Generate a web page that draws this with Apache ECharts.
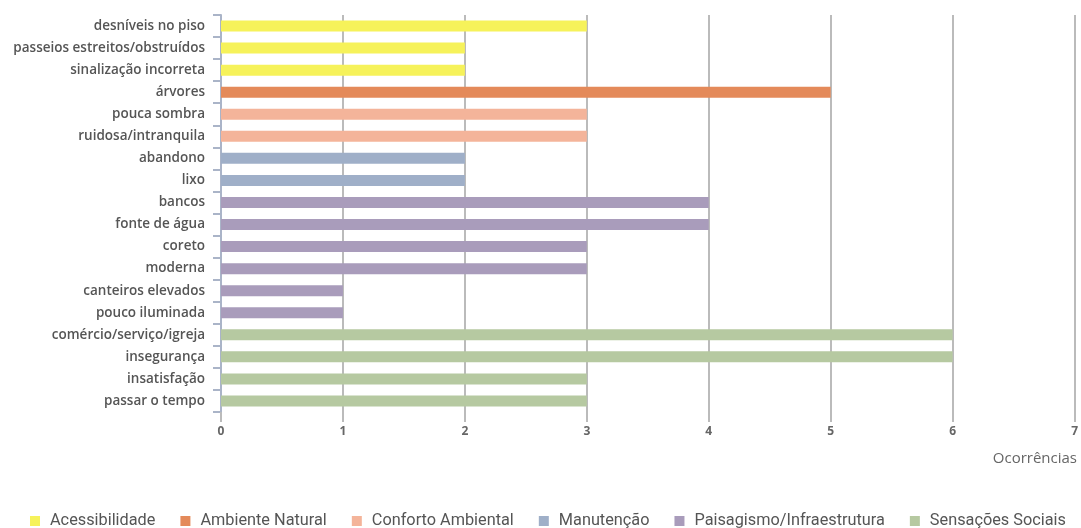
<!DOCTYPE html>
<html>
<head>
<meta charset="utf-8">
<script src="https://cdn.jsdelivr.net/npm/echarts@6/dist/echarts.min.js"></script>
<style>
  html, body { margin: 0; padding: 0; background: #fff; }
  #chart { width: 1081px; height: 528px; }
</style>
</head>
<body>
<div id="chart"></div>
<script>
// Categories, top to bottom
const categories = [
  'desníveis no piso', 'passeios estreitos/obstruídos', 'sinalização incorreta',
  'árvores', 'pouca sombra', 'ruidosa/intranquila',
  'abandono', 'lixo',
  'bancos', 'fonte de água', 'coreto', 'moderna', 'canteiros elevados', 'pouco iluminada',
  'comércio/serviço/igreja', 'insegurança', 'insatisfação', 'passar o tempo'
];

// Group of each category
const groups = [
  'Acessibilidade', 'Acessibilidade', 'Acessibilidade',
  'Ambiente Natural', 'Conforto Ambiental', 'Conforto Ambiental',
  'Manutenção', 'Manutenção',
  'Paisagismo/Infraestrutura', 'Paisagismo/Infraestrutura', 'Paisagismo/Infraestrutura',
  'Paisagismo/Infraestrutura', 'Paisagismo/Infraestrutura', 'Paisagismo/Infraestrutura',
  'Sensações Sociais', 'Sensações Sociais', 'Sensações Sociais', 'Sensações Sociais'
];

// Occurrences per category
const values = [3, 2, 2, 5, 3, 3, 2, 2, 4, 4, 3, 3, 1, 1, 6, 6, 3, 3];

const groupNames = ['Acessibilidade', 'Ambiente Natural', 'Conforto Ambiental',
  'Manutenção', 'Paisagismo/Infraestrutura', 'Sensações Sociais'];
const groupColors = ['#f6f25a', '#e48a5a', '#f4b49a', '#9fafc8', '#a99cbb', '#b6c9a1'];

const series = groupNames.map((g, gi) => ({
  name: g,
  type: 'bar',
  stack: 'all',
  barWidth: 11,
  itemStyle: { color: groupColors[gi] },
  data: values.map((v, i) => groups[i] === g ? v : null)
}));

const chart = echarts.init(document.getElementById('chart'));
chart.setOption({
  animation: false,
  textStyle: { fontFamily: 'Open Sans' },
  grid: { left: 221, right: 4, top: 15, bottom: 116, containLabel: false },
  legend: {
    top: 508,
    left: 25,
    itemWidth: 10,
    itemHeight: 10,
    itemGap: 25,
    icon: 'rect',
    textStyle: {
      fontFamily: 'Roboto, sans-serif',
      fontSize: 16.3, color: '#555',
      padding: [0, 0, 0, 5]
    },
    data: groupNames
  },
  xAxis: {
    type: 'value',
    min: 0, max: 7, interval: 1,
    axisLine: { show: false },
    axisTick: { show: true, length: 10, lineStyle: { color: '#bbb', width: 2 } },
    splitLine: { show: true, lineStyle: { color: '#bbb', width: 2 } },
    axisLabel: { color: '#666', fontSize: 12, fontWeight: 'bold', margin: 14, fontFamily: 'Open Sans' }
  },
  yAxis: {
    type: 'category',
    inverse: true,
    data: categories,
    axisLine: { show: true, lineStyle: { color: '#aab4c8', width: 2 } },
    axisTick: { show: true, length: 8, lineStyle: { color: '#aab4c8', width: 2 } },
    axisLabel: { color: '#555', fontSize: 13.5, fontWeight: 600, margin: 16, fontFamily: 'Open Sans' }
  },
  graphic: [{
    type: 'text',
    right: 4,
    top: 451,
    style: { text: 'Ocorrências', fill: '#666', font: '15px "Open Sans"' }
  }],
  series: series
});
</script>
</body>
</html>
